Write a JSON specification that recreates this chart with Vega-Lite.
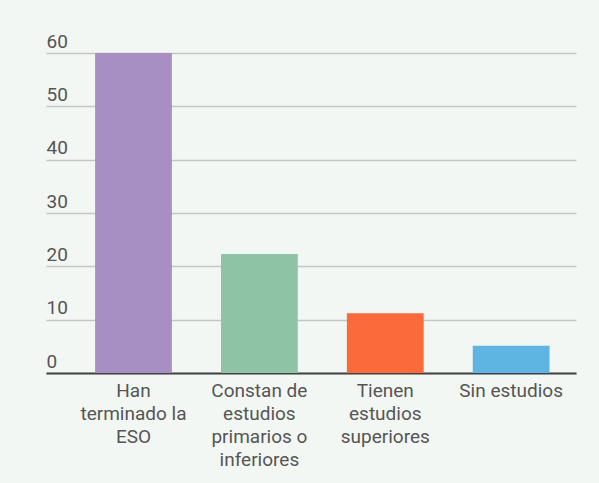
{
  "$schema": "https://vega.github.io/schema/vega-lite/v6.json",
  "width": 530,
  "height": 320,
  "autosize": {"type": "none"},
  "padding": {"left": 46, "top": 53, "right": 23, "bottom": 110},
  "background": "#f3f7f4",
  "data": {
    "values": [
      {"grupo": "Han\nterminado la\nESO", "orden": 1, "porcentaje": 60},
      {"grupo": "Constan de\nestudios\nprimarios o\ninferiores", "orden": 2, "porcentaje": 22.3},
      {"grupo": "Tienen\nestudios\nsuperiores", "orden": 3, "porcentaje": 11.2},
      {"grupo": "Sin estudios", "orden": 4, "porcentaje": 5.1}
    ]
  },
  "mark": {"type": "bar"},
  "encoding": {
    "x": {
      "field": "grupo",
      "type": "nominal",
      "sort": {"field": "orden"},
      "scale": {"paddingInner": 0.39, "paddingOuter": 0.3, "align": 0.65},
      "axis": {
        "title": null,
        "labelAngle": 0,
        "labelExpr": "split(datum.value, '\\n')",
        "labelFont": "Roboto",
        "labelFontSize": 19,
        "labelLineHeight": 23,
        "labelColor": "#555555",
        "labelPadding": 8,
        "ticks": false,
        "domainColor": "#444444",
        "domainWidth": 2,
        "labelLimit": 0
      }
    },
    "y": {
      "field": "porcentaje",
      "type": "quantitative",
      "scale": {"domain": [0, 60]},
      "axis": {
        "title": null,
        "values": [0, 10, 20, 30, 40, 50, 60],
        "domain": false,
        "ticks": false,
        "grid": true,
        "gridColor": "#c4c6c4",
        "gridWidth": 1.5,
        "labelAlign": "left",
        "labelBaseline": "alphabetic",
        "labelPadding": 0,
        "labelOffset": -6,
        "labelFont": "Roboto",
        "labelFontSize": 19,
        "labelColor": "#555555"
      }
    },
    "color": {
      "field": "grupo",
      "type": "nominal",
      "sort": {"field": "orden"},
      "scale": {"range": ["#a78fc4", "#8fc3a6", "#fa6a3b", "#5fb5e2"]},
      "legend": null
    }
  },
  "config": {"view": {"stroke": null}}
}
